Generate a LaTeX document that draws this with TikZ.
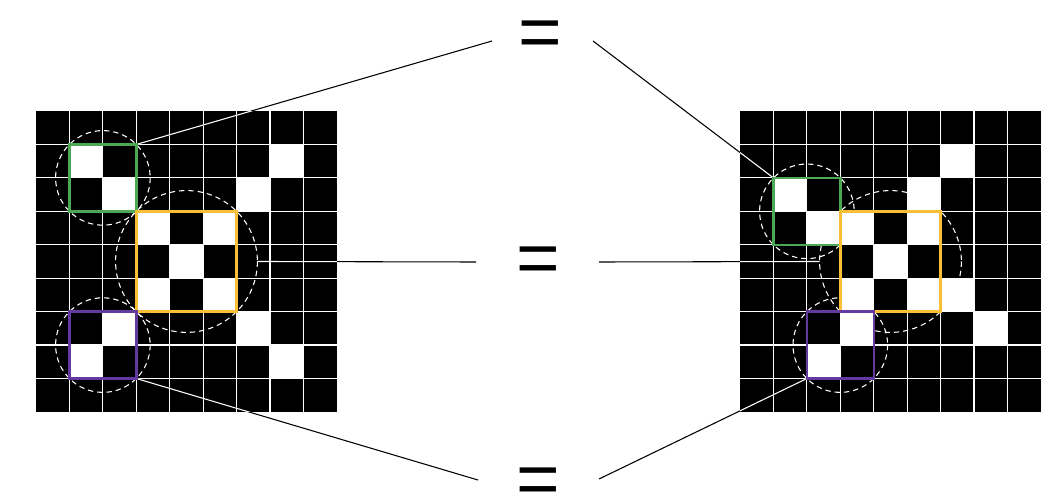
\documentclass[tikz,border=0pt]{standalone}
\usepackage{fontspec}
\newfontfamily\eqfont{Liberation Sans}
\begin{document}
\begin{tikzpicture}[x=0.75pt,y=-0.75pt,
    cell/.style={fill=white},
    gridline/.style={white,line width=0.9pt},
    greenbox/.style={draw={rgb,255:red,76;green,168;blue,84},line width=1.8pt},
    yellowbox/.style={draw={rgb,255:red,250;green,190;blue,55},line width=1.8pt},
    purplebox/.style={draw={rgb,255:red,100;green,58;blue,160},line width=1.8pt},
    ring/.style={white,dashed,dash pattern=on 4pt off 3pt,line width=0.8pt},
    link/.style={line width=0.8pt},
    eqsign/.style={font=\eqfont\fontsize{56}{56}\selectfont,inner sep=0pt,anchor=base}]
    \def\s{33.44}
    \useasboundingbox (0,0) rectangle (1060,500);

    % the three signs
    \node[eqsign] (eqtop) at (540,57) {=};
    \node[eqsign] (eqmid) at (538,283) {=};
    \node[eqsign] (eqbot) at (538,504) {=};
    \coordinate (topL) at (492,41);
    \coordinate (topR) at (593,41);
    \coordinate (midL) at (476,262);
    \coordinate (midR) at (599,262);
    \coordinate (botL) at (478,480);
    \coordinate (botR) at (599,479);

    % left grid
    \begin{scope}[shift={(36,111)}]
        \fill (0,0) rectangle (9*\s,9*\s);
        \foreach \r/\c in {1/1,1/7,2/2,2/6,3/3,3/5,4/4,5/3,5/5,6/2,6/6,7/1,7/7}
            \fill[cell] (\c*\s,\r*\s) rectangle ++(\s,\s);
        \foreach \i in {1,...,8} {
            \draw[gridline] (\i*\s,0) -- (\i*\s,9*\s);
            \draw[gridline] (0,\i*\s) -- (9*\s,\i*\s);
        }
        \coordinate (lgreen) at (3*\s,1*\s);
        \coordinate (lyellow) at (4.5*\s+70.9,4.5*\s);
        \coordinate (lpurple) at (3*\s,8*\s);
    \end{scope}

    % right grid
    \begin{scope}[shift={(740,111)}]
        \fill (0,0) rectangle (9*\s,9*\s);
        \foreach \r/\c in {1/6,2/1,2/5,3/2,3/3,3/5,4/4,5/3,5/5,5/6,6/3,6/7,7/2}
            \fill[cell] (\c*\s,\r*\s) rectangle ++(\s,\s);
        \foreach \i in {1,...,8} {
            \draw[gridline] (\i*\s,0) -- (\i*\s,9*\s);
            \draw[gridline] (0,\i*\s) -- (9*\s,\i*\s);
        }
        \coordinate (rgreen) at (1*\s,2*\s);
        \coordinate (ryellow) at (4.5*\s-70.9,4.5*\s);
        \coordinate (rpurple) at (2*\s,8*\s);
    \end{scope}

    % links, black outside the grids, white inside
    \draw[link] (lgreen) -- (topL) (topR) -- (rgreen);
    \draw[link] (lyellow) -- (midL) (midR) -- (ryellow);
    \draw[link] (lpurple) -- (botL) (botR) -- (rpurple);
    \begin{scope}
        \clip (36,111) rectangle ++(9*\s,9*\s) (740,111) rectangle ++(9*\s,9*\s);
        \draw[link,white] (lgreen) -- (topL) (topR) -- (rgreen);
        \draw[link,white] (lyellow) -- (midL) (midR) -- (ryellow);
        \draw[link,white] (lpurple) -- (botL) (botR) -- (rpurple);
    \end{scope}

    % highlighted patches
    \begin{scope}[shift={(36,111)}]
        \draw[ring] (2*\s,2*\s) circle[radius=47.3];
        \draw[ring] (4.5*\s,4.5*\s) circle[radius=70.9];
        \draw[ring] (2*\s,7*\s) circle[radius=47.3];
        \draw[greenbox] (1*\s,1*\s) rectangle (3*\s,3*\s);
        \draw[yellowbox] (3*\s,3*\s) rectangle (6*\s,6*\s);
        \draw[purplebox] (1*\s,6*\s) rectangle (3*\s,8*\s);
    \end{scope}
    \begin{scope}[shift={(740,111)}]
        \draw[ring] (2*\s,3*\s) circle[radius=47.3];
        \draw[ring] (4.5*\s,4.5*\s) circle[radius=70.9];
        \draw[ring] (3*\s,7*\s) circle[radius=47.3];
        \draw[greenbox] (1*\s,2*\s) rectangle (3*\s,4*\s);
        \draw[yellowbox] (3*\s,3*\s) rectangle (6*\s,6*\s);
        \draw[purplebox] (2*\s,6*\s) rectangle (4*\s,8*\s);
    \end{scope}
\end{tikzpicture}
\end{document}
